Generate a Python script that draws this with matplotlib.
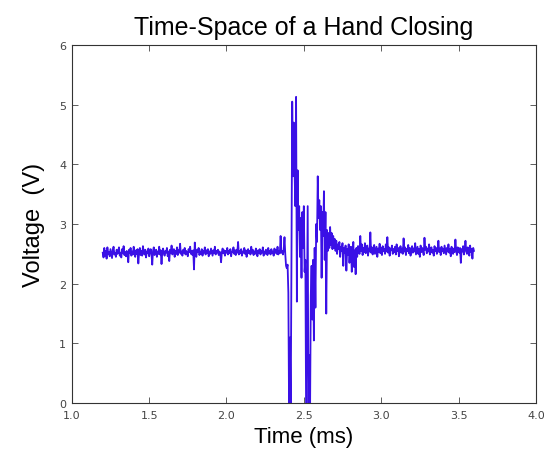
import numpy as np
import matplotlib
matplotlib.use("Agg")
import matplotlib.pyplot as plt

# Voltage samples (V), sampled every 0.005 ms from 1.2 ms to 3.6 ms
pre_event = [
    2.52, 2.44, 2.60, 2.47, 2.55, 2.42, 2.61, 2.50, 2.53, 2.46,
    2.58, 2.51, 2.43, 2.56, 2.62, 2.49, 2.52, 2.45, 2.57, 2.50,
    2.54, 2.61, 2.47, 2.52, 2.44, 2.58, 2.51, 2.63, 2.48, 2.53,
    2.46, 2.55, 2.50, 2.36, 2.57, 2.52, 2.60, 2.47, 2.54, 2.49,
    2.62, 2.51, 2.45, 2.56, 2.50, 2.58, 2.34, 2.53, 2.60, 2.48,
    2.55, 2.47, 2.63, 2.52, 2.49, 2.57, 2.44, 2.54, 2.51, 2.59,
    2.46, 2.53, 2.58, 2.50, 2.32, 2.55, 2.61, 2.48, 2.52, 2.57,
    2.45, 2.54, 2.50, 2.62, 2.49, 2.56, 2.33, 2.53, 2.59, 2.51,
    2.47, 2.55, 2.52, 2.60, 2.46, 2.54, 2.38, 2.57, 2.51, 2.64,
    2.49, 2.53, 2.58, 2.45, 2.55, 2.50, 2.61, 2.48, 2.56, 2.52,
    2.67, 2.50, 2.54, 2.47, 2.57, 2.52, 2.60, 2.49, 2.55, 2.51,
    2.46, 2.58, 2.53, 2.62, 2.50, 2.55, 2.48, 2.56, 2.24, 2.69,
    2.51, 2.45, 2.57, 2.53, 2.60, 2.48, 2.54, 2.50, 2.58, 2.47,
    2.55, 2.52, 2.61, 2.49, 2.56, 2.51, 2.58, 2.46, 2.54, 2.50,
    2.59, 2.53, 2.47, 2.56, 2.51, 2.62, 2.49, 2.55, 2.52, 2.57,
    2.48, 2.54, 2.50, 2.36, 2.53, 2.59, 2.51, 2.56, 2.47, 2.55,
    2.52, 2.60, 2.49, 2.55, 2.51, 2.58, 2.46, 2.54, 2.53, 2.61,
    2.50, 2.56, 2.48, 2.57, 2.52, 2.70, 2.49, 2.55, 2.51, 2.58,
    2.47, 2.54, 2.52, 2.60, 2.50, 2.56, 2.45, 2.53, 2.58, 2.51,
    2.55, 2.49, 2.62, 2.52, 2.57, 2.48, 2.54, 2.50, 2.59, 2.53,
    2.46, 2.56, 2.51, 2.58, 2.49, 2.55, 2.52, 2.61, 2.47, 2.54,
    2.50, 2.57, 2.53, 2.48, 2.60, 2.51, 2.55, 2.49, 2.58, 2.52,
    2.54, 2.47, 2.59, 2.52, 2.56, 2.50, 2.62, 2.49, 2.55, 2.51,
    2.80, 2.52, 2.55, 2.49, 2.57, 2.78,
]

event = [
    2.50, 2.30, 2.26, 2.32,
    1.85, -0.3, 1.10, -0.3, 2.20, 5.05, 3.80, 4.70, 3.90, 3.30,
    5.13, 1.70, 3.90, 2.90, 3.30, 2.45, 3.10, 2.10, 3.20, 2.60,
    3.30, 2.20, 2.40, -0.3, 1.50, 3.30, -0.3, 0.80, -0.3, 1.80,
    2.30, 1.40, 2.40, 1.05, 2.60, 1.60, 3.00, 2.70, 3.80, 3.10,
    3.40, 2.90, 3.30, 2.10, 3.20, 2.80, 3.55, 2.40, 3.20, 1.50,
    2.90, 2.55, 2.85, 2.60, 2.95, 2.65, 2.85, 2.58, 2.80, 2.60,
    2.75,
]

settling = [
    2.55, 2.72, 2.50, 2.66, 2.58, 2.70, 2.45, 2.62, 2.55, 2.68,
    2.30, 2.60, 2.52, 2.64, 2.22, 2.58, 2.48, 2.66, 2.35, 2.55,
    2.62, 2.20, 2.50, 2.70, 2.28, 2.56, 2.16, 2.60, 2.45, 2.63,
]

post_event = [
    2.62, 2.50, 2.80, 2.55, 2.66, 2.48, 2.60, 2.53, 2.68, 2.51,
    2.57, 2.64, 2.47, 2.59, 2.54, 2.86, 2.52, 2.61, 2.49, 2.58,
    2.65, 2.50, 2.56, 2.62, 2.45, 2.59, 2.53, 2.67, 2.51, 2.60,
    2.48, 2.63, 2.55, 2.58, 2.50, 2.66, 2.54, 2.78, 2.52, 2.61,
    2.47, 2.59, 2.56, 2.64, 2.50, 2.58, 2.53, 2.62, 2.49, 2.66,
    2.55, 2.60, 2.46, 2.57, 2.63, 2.52, 2.59, 2.50, 2.76, 2.54,
    2.61, 2.48, 2.58, 2.55, 2.65, 2.51, 2.60, 2.47, 2.57, 2.63,
    2.52, 2.59, 2.54, 2.68, 2.49, 2.56, 2.62, 2.50, 2.58, 2.45,
    2.64, 2.53, 2.60, 2.55, 2.48, 2.77, 2.57, 2.62, 2.51, 2.59,
    2.54, 2.66, 2.49, 2.58, 2.61, 2.52, 2.57, 2.47, 2.63, 2.55,
    2.60, 2.50, 2.56, 2.72, 2.53, 2.59, 2.48, 2.62, 2.55, 2.58,
    2.51, 2.64, 2.57, 2.49, 2.60, 2.54, 2.66, 2.52, 2.58, 2.46,
    2.62, 2.55, 2.50, 2.59, 2.53, 2.74, 2.56, 2.48, 2.61, 2.57,
    2.52, 2.60, 2.35, 2.58, 2.54, 2.63, 2.49, 2.57, 2.72, 2.55,
    2.50, 2.61, 2.56, 2.47, 2.64, 2.53, 2.58, 2.42, 2.60, 2.55,
]

t_start, t_end = 1.2, 3.6
x_ticks = [1.0, 1.5, 2.0, 2.5, 3.0, 3.5, 4.0]
y_ticks = [0, 1, 2, 3, 4, 5, 6]

voltage = np.array(pre_event + event + settling + post_event)
time = np.linspace(t_start, t_end, len(voltage))

fig = plt.figure(figsize=(5.44, 4.64), dpi=100)
ax = fig.add_axes([0.132, 0.129, 0.853, 0.772])
ax.plot(time, voltage, color="#3a10e6", linewidth=1.3)

ax.set_xlim(1.0, 4.0)
ax.set_ylim(0, 6)
ax.set_xticks(x_ticks)
ax.set_xticklabels([f"{v:.1f}" for v in x_ticks])
ax.set_yticks(y_ticks)
ax.set_yticklabels([str(v) for v in y_ticks])
ax.tick_params(direction="in", top=True, right=True, length=4, width=0.6,
               labelsize=8, colors="#444444")
ax.tick_params(axis="x", pad=5)
ax.tick_params(axis="y", pad=4)
for s in ax.spines.values():
    s.set_linewidth(0.8)
    s.set_color("#333333")

fam = ["Liberation Sans", "DejaVu Sans"]
ax.set_title("Time-Space of a Hand Closing", fontsize=18, family=fam, pad=8)
ax.set_xlabel("Time (ms)", fontsize=16, family=fam, labelpad=4)
ax.set_ylabel("Voltage  (V)", fontsize=17, family=fam, labelpad=10)

fig.savefig("out.png", dpi=100)
